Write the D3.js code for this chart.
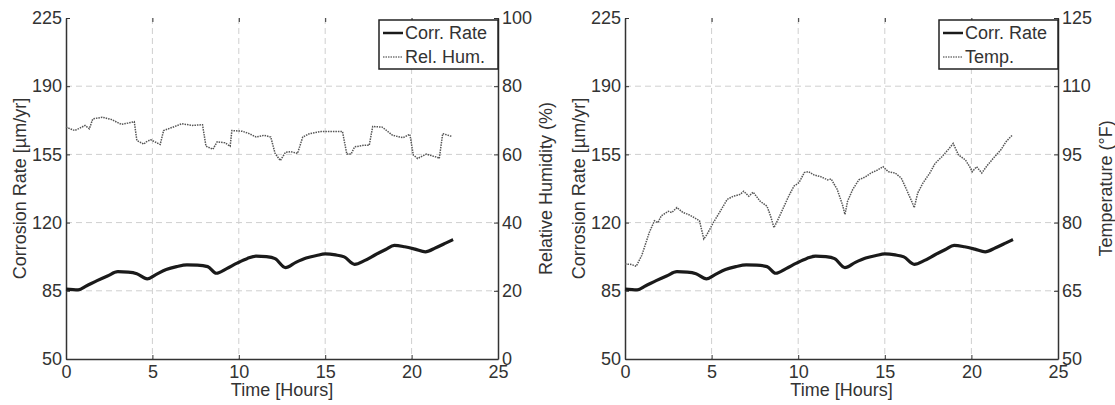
<!DOCTYPE html>
<html>
<head>
<meta charset="utf-8">
<script src="https://cdn.jsdelivr.net/npm/d3@7"></script>
<style>
  body { margin: 0; background: #fff; }
  svg { display: block; font-family: "Liberation Sans", Arial, sans-serif; }
  .tick text { fill: #333; font-size: 18px; }
  .domain, .tick line { stroke: #333; }
</style>
</head>
<body>
<svg id="chart"></svg>
<script>
const width = 1115;
const height = 405;

// Shared x axis (hours)
const hourTicks = [0, 5, 10, 15, 20, 25];
const corrTicks = [50, 85, 120, 155, 190, 225];
const humTicks = [0, 20, 40, 60, 80, 100];
const tempTicks = [50, 65, 80, 95, 110, 125];

// Corrosion rate [um/yr]
const corrHours = [0, 0.7, 1.2, 1.8, 2.4, 3.0, 3.6, 4.1, 4.7, 5.2, 5.8, 6.4, 7.0, 7.6, 8.2, 8.7,
  9.3, 9.9, 10.5, 11.0, 11.6, 12.1, 12.7, 13.3, 13.9, 14.5, 15.0, 15.6, 16.1, 16.7, 17.3, 17.9,
  18.5, 19.0, 19.6, 20.2, 20.8, 21.4, 22.0, 22.4];
const corrRate = [85.9, 85.5, 87.6, 90.2, 92.6, 94.8, 94.6, 93.8, 91.1, 93.3, 95.9, 97.4, 98.3, 98.2, 97.4, 94.0,
  96.4, 99.2, 101.6, 102.8, 102.5, 101.5, 96.9, 99.6, 101.8, 103.1, 103.9, 103.4, 102.4, 98.6, 100.6, 103.5,
  106.2, 108.3, 107.6, 106.4, 105.0, 107.1, 109.6, 111.3];

// Relative humidity (%)
const humHours = [0, 0.5, 0.8, 1.1, 1.35, 1.55, 2.1, 2.65, 3.2, 3.6, 3.95, 4.1, 4.5, 4.65, 4.9, 5.45,
  5.65, 6.3, 6.7, 7.3, 7.9, 8.1, 8.5, 8.75, 9.2, 9.5, 9.6, 10.2, 10.6, 11.0, 11.45, 11.85,
  12.1, 12.4, 12.7, 13.0, 13.4, 13.7, 14.1, 14.75, 15.4, 16.0, 16.25, 16.5, 16.7, 17.25, 17.55,
  17.75, 18.3, 18.9, 19.5, 19.9, 20.1, 20.35, 20.85, 21.5, 21.6, 21.8, 22.3];
const humidity = [68.0, 67.0, 67.7, 68.5, 67.5, 70.4, 70.9, 70.2, 68.8, 69.2, 69.6, 64.1, 63.0, 63.7, 64.3, 62.9,
  67.0, 68.2, 69.0, 68.5, 68.7, 62.4, 61.5, 63.7, 63.4, 62.4, 67.0, 66.8, 66.1, 65.1, 65.6, 65.1,
  60.3, 58.2, 60.6, 60.8, 60.3, 65.1, 66.1, 66.7, 66.7, 66.7, 60.1, 60.1, 62.2, 62.7, 62.7,
  68.2, 68.0, 65.6, 64.9, 65.9, 59.8, 58.8, 60.1, 59.1, 58.8, 66.1, 65.3];

// Temperature (F)
const tempHours = [0, 0.35, 0.65, 0.97, 1.4, 1.7, 1.9, 2.1, 2.5, 2.7, 3.0, 3.35, 3.65, 4.0, 4.3, 4.55,
  4.75, 5.1, 5.5, 5.9, 6.25, 6.65, 6.85, 7.15, 7.4, 7.8, 8.2, 8.4, 8.6, 8.8, 9.1, 9.45,
  9.75, 10.05, 10.35, 10.6, 10.9, 11.3, 11.7, 11.9, 12.25, 12.55, 12.7, 12.85, 13.15, 13.5,
  13.9, 14.2, 14.6, 14.9, 15.2, 15.6, 15.95, 16.25, 16.55, 16.7, 16.9, 17.2, 17.6, 17.9,
  18.3, 18.65, 18.95, 19.25, 19.65, 19.9, 20.05, 20.3, 20.6, 20.9, 21.3, 21.7, 22.0, 22.35];
const temperature = [70.9, 70.8, 70.4, 72.8, 77.8, 80.4, 80.0, 81.5, 82.5, 82.2, 83.3, 82.2, 81.8, 81.1, 80.4, 76.4,
  77.5, 80.0, 82.5, 85.1, 85.8, 86.2, 86.9, 85.8, 86.7, 84.7, 83.6, 81.5, 78.9, 80.4, 82.9, 85.8,
  88.0, 88.8, 91.0, 91.2, 90.5, 90.1, 89.4, 89.6, 87.3, 84.0, 81.8, 84.7, 87.3, 89.4,
  90.1, 90.9, 91.6, 92.3, 91.2, 90.9, 89.8, 87.3, 84.7, 83.3, 86.5, 88.7, 90.9, 93.0,
  94.5, 96.0, 97.4, 94.9, 93.8, 92.3, 91.2, 92.3, 90.9, 92.5, 94.3, 96.0, 97.8, 99.2];

const svg = d3.select("#chart").attr("width", width).attr("height", height);

function drawPanel(opts) {
  const { left, right, top, bottom } = opts;
  const g = svg.append("g");

  const x = d3.scaleLinear().domain([0, 25]).range([left, right]);
  const y = d3.scaleLinear().domain([50, 225]).range([bottom, top]);
  const y2 = d3.scaleLinear().domain(opts.rightDomain).range([bottom, top]);

  // dashed grid
  g.append("g").selectAll("line")
    .data(hourTicks.slice(1, -1)).enter().append("line")
    .attr("x1", (d) => x(d)).attr("x2", (d) => x(d))
    .attr("y1", top).attr("y2", bottom)
    .attr("stroke", "#cfcfcf").attr("stroke-dasharray", "6,4");
  g.append("g").selectAll("line")
    .data(corrTicks.slice(1, -1)).enter().append("line")
    .attr("x1", left).attr("x2", right)
    .attr("y1", (d) => y(d)).attr("y2", (d) => y(d))
    .attr("stroke", "#cfcfcf").attr("stroke-dasharray", "6,4");

  // axes, ticks pointing inward
  g.append("g").attr("transform", `translate(0,${bottom})`)
    .call(d3.axisBottom(x).tickValues(hourTicks).tickSize(-4).tickPadding(6).tickSizeOuter(0));
  g.append("g").attr("transform", `translate(0,${top})`)
    .call(d3.axisTop(x).tickValues(hourTicks).tickSize(-4).tickFormat("").tickSizeOuter(0))
    .select(".domain").remove();
  g.append("g").attr("transform", `translate(${left},0)`)
    .call(d3.axisLeft(y).tickValues(corrTicks).tickSize(-4).tickPadding(4).tickSizeOuter(0));
  g.append("g").attr("transform", `translate(${right},0)`)
    .call(d3.axisRight(y2).tickValues(opts.rightTicks).tickSize(-4).tickPadding(4).tickSizeOuter(0));
  g.selectAll(".domain").attr("stroke-width", 1.5);

  // series
  const secLine = d3.line()
    .x((d, i) => x(opts.secHours[i]))
    .y((d) => y2(d));
  g.append("path").datum(opts.secValues)
    .attr("d", secLine)
    .attr("fill", "none").attr("stroke", "#555")
    .attr("stroke-width", 1.5).attr("stroke-dasharray", "1.5,1");

  const corrLine = d3.line()
    .x((d, i) => x(corrHours[i]))
    .y((d) => y(d))
    .curve(d3.curveMonotoneX);
  g.append("path").datum(corrRate)
    .attr("d", corrLine)
    .attr("fill", "none").attr("stroke", "#1a1a1a")
    .attr("stroke-width", 3.2).attr("stroke-linejoin", "round");

  // axis titles
  g.append("text")
    .attr("x", (left + right) / 2).attr("y", 396)
    .attr("text-anchor", "middle").attr("font-size", 18).attr("fill", "#333")
    .text("Time [Hours]");
  g.append("text")
    .attr("transform", `translate(${left - 46},${(top + bottom) / 2}) rotate(-90)`)
    .attr("text-anchor", "middle").attr("dy", "0.35em")
    .attr("font-size", 18).attr("fill", "#333")
    .text("Corrosion Rate [µm/yr]");
  g.append("text")
    .attr("transform", `translate(${right + 48},${(top + bottom) / 2}) rotate(-90)`)
    .attr("text-anchor", "middle").attr("dy", "0.35em")
    .attr("font-size", 18).attr("fill", "#333")
    .text(opts.rightLabel);

  // legend
  const lg = g.append("g").attr("transform", `translate(${right - 119},20)`);
  lg.append("rect").attr("width", 119).attr("height", 49)
    .attr("fill", "#fff").attr("stroke", "#222").attr("stroke-width", 1.5);
  lg.append("line").attr("x1", 4).attr("x2", 24).attr("y1", 13).attr("y2", 13)
    .attr("stroke", "#1a1a1a").attr("stroke-width", 2.5);
  lg.append("line").attr("x1", 4).attr("x2", 24).attr("y1", 37).attr("y2", 37)
    .attr("stroke", "#777").attr("stroke-width", 1.5).attr("stroke-dasharray", "1.5,1");
  lg.append("text").attr("x", 26).attr("y", 13).attr("dy", "0.35em")
    .attr("font-size", 18).attr("fill", "#333").text("Corr. Rate");
  lg.append("text").attr("x", 26).attr("y", 37).attr("dy", "0.35em")
    .attr("font-size", 18).attr("fill", "#333").text(opts.legendLabel);
}

drawPanel({
  left: 66, right: 498, top: 18, bottom: 359,
  rightDomain: [0, 100], rightTicks: humTicks,
  secHours: humHours, secValues: humidity,
  rightLabel: "Relative Humidity (%)", legendLabel: "Rel. Hum."
});

drawPanel({
  left: 625, right: 1058, top: 18, bottom: 359,
  rightDomain: [50, 125], rightTicks: tempTicks,
  secHours: tempHours, secValues: temperature,
  rightLabel: "Temperature (°F)", legendLabel: "Temp."
});
</script>
</body>
</html>
